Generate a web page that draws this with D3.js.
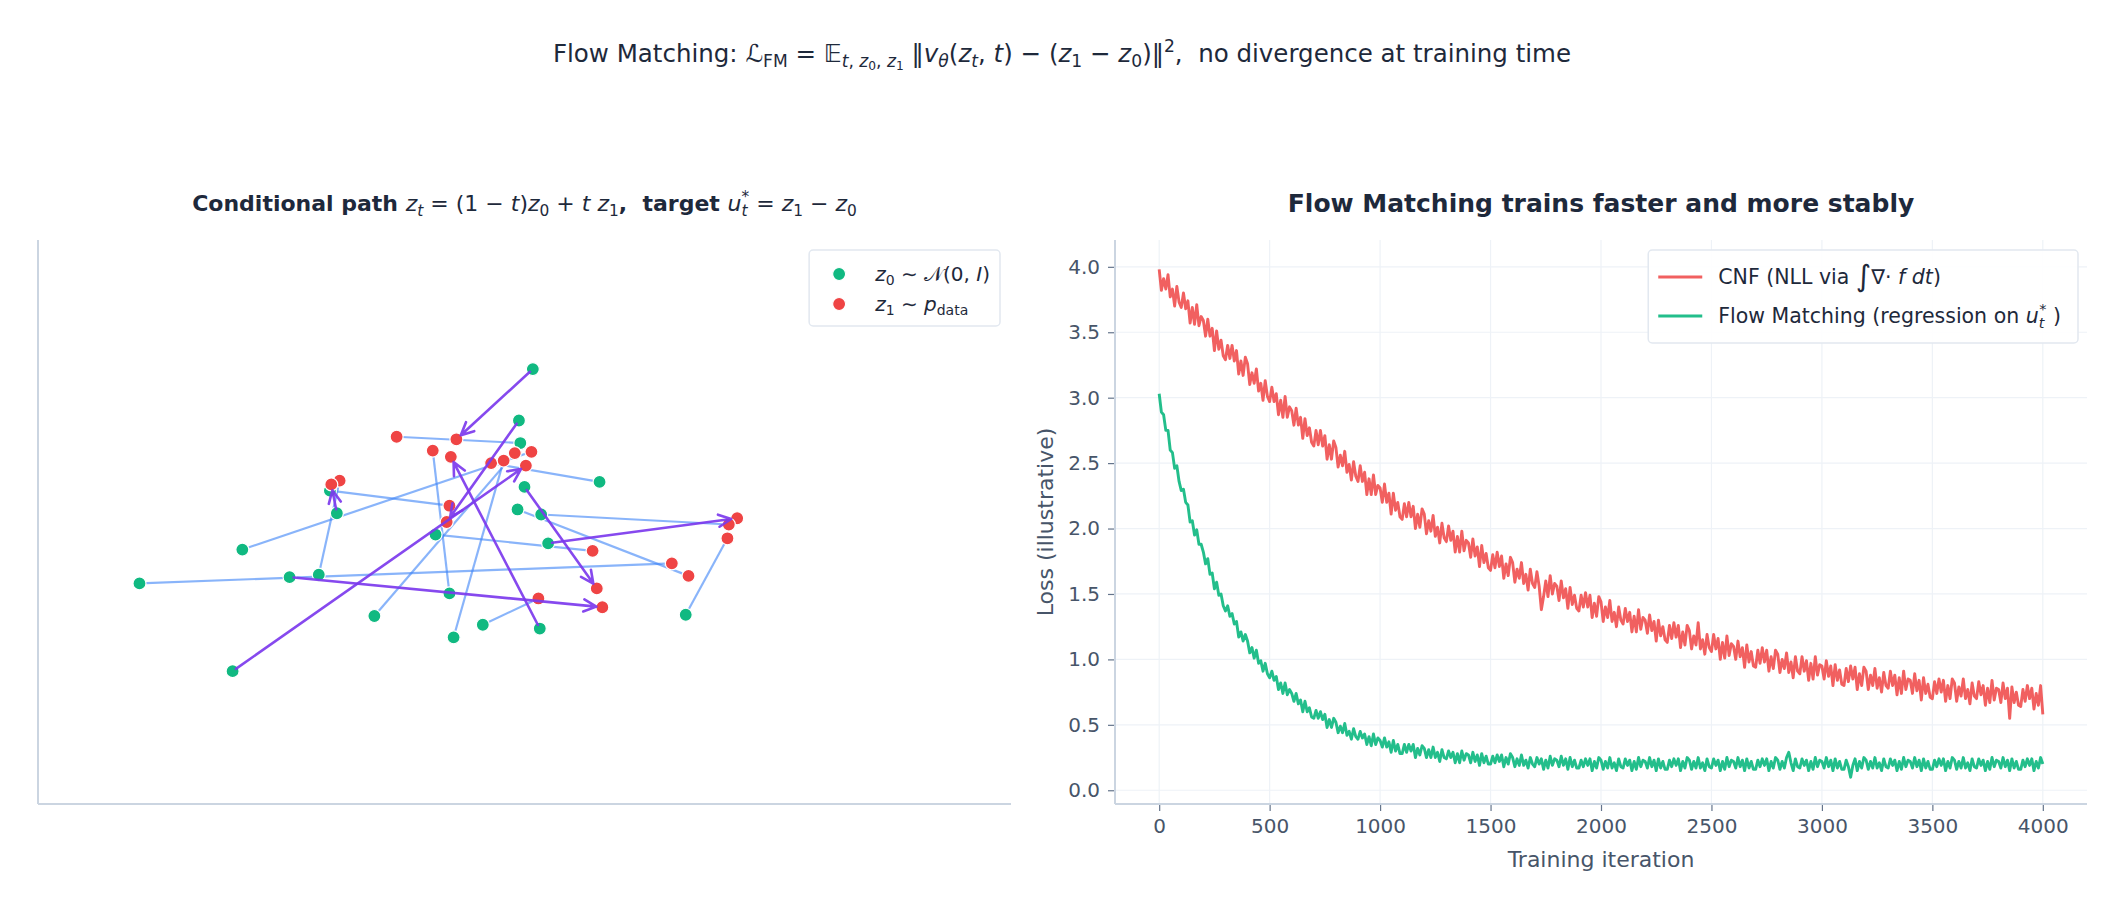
<!DOCTYPE html>
<html>
<head>
<meta charset="utf-8">
<script src="https://cdn.jsdelivr.net/npm/d3@7"></script>
<style>
  body { margin: 0; background: #fff; }
  svg text { font-family: "DejaVu Sans", sans-serif; white-space: pre; }
</style>
</head>
<body>
<svg id="fig" width="2125" height="908"></svg>
<script>
// ---- left panel: z0 -> z1 pairs (data units) ----
const z0x = [0.06, -0.04, -2.10, 0.11, -1.48, -1.69, 0.00, 0.17, -0.03, 0.54, -0.05, 0.12, -2.03, -0.64, -2.77, -1.35, -0.54, -1.08, -0.30, -0.51, 1.16, -1.40];
const z0y = [1.47, 1.06, -0.94, -0.60, -0.17, -0.19, 0.53, 0.08, 0.88, 0.57, 0.35, 0.31, 0.03, 0.15, -0.24, 0.32, -0.32, -0.50, -0.57, -0.67, -0.49, 0.50];
const z1x = [-0.49, -0.56, 0.01, -0.53, -1.33, 0.56, 0.52, 1.53, -0.92, -0.24, 1.18, 1.47, 0.05, 0.49, 1.06, -1.39, -0.66, -0.07, 0.10, -0.15, 1.46, -0.54];
const z1y = [0.91, 0.25, 0.70, 0.77, 0.58, -0.43, -0.28, 0.28, 0.93, 0.72, -0.18, 0.23, 0.81, 0.02, -0.08, 0.55, 0.82, 0.80, -0.36, 0.74, 0.12, 0.38];
// pairs drawn as highlighted arrows
const arrowIdx = [0, 1, 2, 3, 15, 5, 6, 7];

// ---- right panel: loss curves, one value every 10 iterations ----
const iterations = d3.range(0, 4001, 10);
const cnfLoss = [
  3.98, 3.82, 3.91, 3.83, 3.94, 3.77, 3.83, 3.70, 3.85, 3.73,
  3.69, 3.80, 3.68, 3.74, 3.57, 3.69, 3.56, 3.71, 3.55, 3.62,
  3.59, 3.47, 3.60, 3.47, 3.53, 3.36, 3.51, 3.37, 3.44, 3.32,
  3.29, 3.40, 3.30, 3.40, 3.28, 3.36, 3.18, 3.28, 3.17, 3.31,
  3.26, 3.10, 3.19, 3.11, 3.22, 3.05, 3.11, 2.98, 3.13, 3.01,
  2.97, 3.08, 2.97, 3.03, 2.87, 2.98, 2.85, 3.01, 2.85, 2.93,
  2.90, 2.79, 2.92, 2.79, 2.85, 2.69, 2.84, 2.71, 2.77, 2.66,
  2.63, 2.75, 2.64, 2.75, 2.63, 2.71, 2.53, 2.64, 2.53, 2.67,
  2.62, 2.47, 2.56, 2.48, 2.59, 2.43, 2.49, 2.37, 2.51, 2.40,
  2.36, 2.48, 2.36, 2.43, 2.26, 2.38, 2.26, 2.41, 2.26, 2.33,
  2.31, 2.20, 2.34, 2.20, 2.27, 2.11, 2.27, 2.14, 2.20, 2.09,
  2.07, 2.19, 2.09, 2.20, 2.09, 2.17, 2.00, 2.11, 2.01, 2.15,
  2.11, 1.96, 2.06, 1.98, 2.10, 1.94, 2.01, 1.89, 2.04, 1.93,
  1.90, 2.02, 1.91, 1.98, 1.82, 1.94, 1.82, 1.98, 1.83, 1.91,
  1.89, 1.78, 1.92, 1.79, 1.86, 1.71, 1.87, 1.74, 1.81, 1.70,
  1.68, 1.80, 1.70, 1.82, 1.71, 1.79, 1.62, 1.73, 1.64, 1.78,
  1.74, 1.59, 1.69, 1.62, 1.74, 1.58, 1.65, 1.53, 1.69, 1.58,
  1.55, 1.67, 1.56, 1.38, 1.48, 1.60, 1.48, 1.64, 1.50, 1.58,
  1.56, 1.45, 1.60, 1.47, 1.54, 1.39, 1.55, 1.42, 1.49, 1.39,
  1.37, 1.49, 1.40, 1.51, 1.40, 1.49, 1.32, 1.43, 1.33, 1.48,
  1.44, 1.29, 1.40, 1.32, 1.45, 1.29, 1.36, 1.25, 1.40, 1.30,
  1.27, 1.39, 1.29, 1.36, 1.21, 1.33, 1.21, 1.38, 1.23, 1.32,
  1.30, 1.20, 1.34, 1.22, 1.29, 1.14, 1.30, 1.18, 1.25, 1.15,
  1.13, 1.26, 1.16, 1.28, 1.17, 1.26, 1.09, 1.21, 1.11, 1.26,
  1.22, 1.08, 1.18, 1.11, 1.28, 1.08, 1.15, 1.04, 1.19, 1.09,
  1.06, 1.19, 1.08, 1.16, 1.00, 1.13, 1.01, 1.18, 1.03, 1.12,
  1.10, 1.00, 1.14, 1.02, 1.09, 0.94, 1.11, 0.98, 1.06, 0.95,
  0.94, 1.07, 0.97, 1.09, 0.98, 1.07, 0.91, 1.02, 0.93, 1.07,
  1.04, 0.90, 1.00, 0.93, 1.05, 0.90, 0.98, 0.86, 1.02, 0.91,
  0.89, 1.02, 0.91, 0.99, 0.84, 0.97, 0.85, 1.02, 0.88, 0.96,
  0.95, 0.85, 0.99, 0.87, 0.95, 0.80, 0.96, 0.84, 0.92, 0.81,
  0.80, 0.93, 0.83, 0.95, 0.85, 0.94, 0.77, 0.89, 0.80, 0.94,
  0.91, 0.77, 0.88, 0.80, 0.93, 0.78, 0.86, 0.75, 0.90, 0.80,
  0.78, 0.91, 0.80, 0.88, 0.73, 0.86, 0.74, 0.91, 0.77, 0.85,
  0.84, 0.74, 0.89, 0.76, 0.84, 0.69, 0.86, 0.74, 0.81, 0.71,
  0.70, 0.83, 0.74, 0.85, 0.75, 0.84, 0.68, 0.80, 0.70, 0.85,
  0.82, 0.68, 0.79, 0.72, 0.85, 0.70, 0.77, 0.66, 0.82, 0.72,
  0.70, 0.83, 0.73, 0.80, 0.65, 0.78, 0.67, 0.84, 0.69, 0.78,
  0.77, 0.67, 0.82, 0.70, 0.78, 0.55, 0.79, 0.67, 0.75, 0.65,
  0.64, 0.77, 0.68, 0.80, 0.70, 0.78, 0.62, 0.74, 0.65, 0.80,
  0.58
];
const fmLoss = [
  3.03, 2.89, 2.87, 2.75, 2.75, 2.60, 2.58, 2.46, 2.48, 2.36,
  2.29, 2.30, 2.20, 2.18, 2.05, 2.06, 1.95, 1.99, 1.88, 1.88,
  1.82, 1.73, 1.77, 1.65, 1.66, 1.54, 1.59, 1.49, 1.50, 1.41,
  1.37, 1.41, 1.33, 1.35, 1.27, 1.29, 1.17, 1.21, 1.14, 1.19,
  1.14, 1.05, 1.09, 1.01, 1.07, 0.97, 0.99, 0.91, 0.97, 0.89,
  0.86, 0.91, 0.84, 0.87, 0.77, 0.82, 0.74, 0.82, 0.73, 0.77,
  0.74, 0.68, 0.74, 0.66, 0.69, 0.60, 0.68, 0.60, 0.63, 0.56,
  0.55, 0.61, 0.55, 0.60, 0.54, 0.58, 0.48, 0.54, 0.48, 0.55,
  0.52, 0.44, 0.49, 0.44, 0.51, 0.42, 0.45, 0.39, 0.47, 0.41,
  0.39, 0.45, 0.40, 0.43, 0.35, 0.41, 0.34, 0.43, 0.35, 0.40,
  0.38, 0.33, 0.40, 0.33, 0.37, 0.29, 0.38, 0.30, 0.35, 0.28,
  0.28, 0.35, 0.29, 0.35, 0.30, 0.35, 0.25, 0.32, 0.27, 0.34,
  0.32, 0.25, 0.31, 0.25, 0.33, 0.25, 0.29, 0.22, 0.31, 0.25,
  0.24, 0.30, 0.25, 0.29, 0.21, 0.28, 0.21, 0.30, 0.23, 0.28,
  0.27, 0.21, 0.29, 0.22, 0.27, 0.19, 0.28, 0.21, 0.26, 0.20,
  0.20, 0.26, 0.21, 0.27, 0.22, 0.27, 0.18, 0.25, 0.20, 0.28,
  0.25, 0.18, 0.24, 0.19, 0.27, 0.19, 0.23, 0.17, 0.25, 0.20,
  0.18, 0.25, 0.20, 0.24, 0.16, 0.23, 0.17, 0.26, 0.19, 0.24,
  0.23, 0.18, 0.26, 0.19, 0.24, 0.16, 0.25, 0.18, 0.23, 0.17,
  0.17, 0.23, 0.18, 0.24, 0.19, 0.24, 0.15, 0.22, 0.17, 0.25,
  0.23, 0.16, 0.22, 0.17, 0.25, 0.17, 0.21, 0.15, 0.24, 0.18,
  0.17, 0.24, 0.19, 0.23, 0.15, 0.22, 0.16, 0.25, 0.18, 0.23,
  0.22, 0.17, 0.25, 0.18, 0.23, 0.15, 0.24, 0.17, 0.22, 0.16,
  0.16, 0.23, 0.18, 0.24, 0.19, 0.24, 0.15, 0.22, 0.17, 0.25,
  0.23, 0.16, 0.22, 0.17, 0.25, 0.17, 0.21, 0.15, 0.24, 0.18,
  0.17, 0.24, 0.19, 0.23, 0.15, 0.22, 0.16, 0.25, 0.18, 0.23,
  0.22, 0.17, 0.25, 0.18, 0.23, 0.15, 0.24, 0.17, 0.22, 0.16,
  0.16, 0.23, 0.18, 0.24, 0.19, 0.24, 0.15, 0.22, 0.17, 0.25,
  0.23, 0.16, 0.22, 0.17, 0.25, 0.29, 0.21, 0.15, 0.24, 0.18,
  0.17, 0.24, 0.19, 0.23, 0.15, 0.22, 0.16, 0.25, 0.18, 0.23,
  0.22, 0.17, 0.25, 0.18, 0.23, 0.15, 0.24, 0.17, 0.22, 0.16,
  0.16, 0.23, 0.18, 0.10, 0.19, 0.24, 0.15, 0.22, 0.17, 0.25,
  0.23, 0.16, 0.22, 0.17, 0.25, 0.17, 0.21, 0.15, 0.24, 0.18,
  0.17, 0.24, 0.19, 0.23, 0.15, 0.22, 0.16, 0.25, 0.18, 0.23,
  0.22, 0.17, 0.25, 0.18, 0.23, 0.15, 0.24, 0.17, 0.22, 0.16,
  0.16, 0.23, 0.18, 0.24, 0.19, 0.24, 0.15, 0.22, 0.17, 0.25,
  0.23, 0.16, 0.22, 0.17, 0.25, 0.17, 0.21, 0.15, 0.24, 0.18,
  0.17, 0.24, 0.19, 0.23, 0.15, 0.22, 0.16, 0.25, 0.18, 0.23,
  0.22, 0.17, 0.25, 0.18, 0.23, 0.15, 0.24, 0.17, 0.22, 0.16,
  0.16, 0.23, 0.18, 0.24, 0.19, 0.24, 0.15, 0.22, 0.17, 0.25,
  0.20
];
const xTicks = [0, 500, 1000, 1500, 2000, 2500, 3000, 3500, 4000];
const yTicks = [0, 0.5, 1, 1.5, 2, 2.5, 3, 3.5, 4];

// colours
const green = "#10b981", red = "#ef4444", blue = "#3b82f6", purple = "#7c3aed";
const ink = "#1e293b", slate = "#475569", spine = "#cbd5e1", gridC = "#eef2f7";

const svg = d3.select("#fig");
svg.append("rect").attr("width", 2125).attr("height", 908).attr("fill", "#fff");

// text with sub/superscripts: [text, style, scale, baselineOffset(em), dx(em)]
function richText(g, x, y, segs, o) {
  const t = g.append("text").attr("x", x).attr("y", y)
    .attr("font-size", o.size).attr("fill", o.color)
    .attr("text-anchor", o.anchor || "start")
    .attr("font-weight", o.weight || "normal");
  let level = 0;
  segs.forEach(s => {
    const [txt, style = "", scale = 1, off = 0, dx = 0] = s;
    const sp = t.append("tspan").text(txt)
      .attr("font-size", o.size * scale);
    if (off !== level) sp.attr("dy", (off - level) * o.size);
    if (dx) sp.attr("dx", dx * o.size);
    if (style.includes("i")) sp.attr("font-style", "italic");
    if (style.includes("b")) sp.attr("font-weight", "bold");
    if (style.includes("n")) sp.attr("font-weight", "normal");
    level = off;
  });
  return t;
}
const SUB = 0.22, SUB2 = 0.34, SUP = -0.42;

// suptitle
richText(svg, 1062, 62, [
  ["Flow Matching: "], ["ℒ"], ["FM", "", 0.7, SUB], [" = ", "", 1, 0], ["𝔼"],
  ["t", "i", 0.7, SUB], [", ", "", 0.7, SUB], ["z", "i", 0.7, SUB], ["0", "", 0.5, SUB2],
  [", ", "", 0.7, SUB], ["z", "i", 0.7, SUB], ["1", "", 0.5, SUB2],
  [" ‖", "", 1, 0], ["v", "i"], ["θ", "i", 0.7, SUB], ["(", "", 1, 0], ["z", "i"], ["t", "i", 0.7, SUB],
  [", ", "", 1, 0], ["t", "i"], [") − (", ""], ["z", "i"], ["1", "", 0.7, SUB], [" − ", "", 1, 0],
  ["z", "i"], ["0", "", 0.7, SUB], [")‖", "", 1, 0], ["2", "", 0.7, SUP],
  [",  no divergence at training time", "", 1, 0]
], { size: 24.5, color: ink, anchor: "middle" });

// ================= left panel =================
const L = { left: 38, right: 1011, top: 240, bottom: 804 };
const xL = d3.scaleLinear().domain([-3.5, 3.5]).range([L.left, L.right]);
const yL = d3.scaleLinear().domain([-2.0, 2.5]).range([L.bottom, L.top]);

richText(svg, (L.left + L.right) / 2, 211, [
  ["Conditional path ", "b"], ["z", "in"], ["t", "in", 0.7, SUB], [" = (1 − ", "n", 1, 0], ["t", "in"],
  [")", "n"], ["z", "in"], ["0", "n", 0.7, SUB], [" + ", "n", 1, 0], ["t", "in"], [" ", "n"],
  ["z", "in"], ["1", "n", 0.7, SUB], [",  target ", "b", 1, 0], ["u", "in"], ["t", "in", 0.7, SUB],
  ["*", "n", 0.7, SUP, -0.27], [" = ", "n", 1, 0], ["z", "in"], ["1", "n", 0.7, SUB],
  [" − ", "n", 1, 0], ["z", "in"], ["0", "n", 0.7, SUB]
], { size: 22, color: ink, anchor: "middle", weight: "bold" });

const left = svg.append("g");
// spines
left.append("line").attr("x1", L.left).attr("x2", L.left).attr("y1", L.top).attr("y2", L.bottom)
  .attr("stroke", spine).attr("stroke-width", 2);
left.append("line").attr("x1", L.left).attr("x2", L.right).attr("y1", L.bottom).attr("y2", L.bottom)
  .attr("stroke", spine).attr("stroke-width", 2);

const pairs = z0x.map((d, i) => ({ i, x0: z0x[i], y0: z0y[i], x1: z1x[i], y1: z1y[i] }));
const plain = pairs.filter(p => !arrowIdx.includes(p.i));
const arrows = pairs.filter(p => arrowIdx.includes(p.i));

left.selectAll(".pair").data(plain).enter().append("line")
  .attr("x1", d => xL(d.x0)).attr("y1", d => yL(d.y0))
  .attr("x2", d => xL(d.x1)).attr("y2", d => yL(d.y1))
  .attr("stroke", blue).attr("stroke-opacity", 0.6).attr("stroke-width", 2.2);

left.selectAll(".z0").data(pairs).enter().append("circle")
  .attr("cx", d => xL(d.x0)).attr("cy", d => yL(d.y0)).attr("r", 6.5)
  .attr("fill", green).attr("stroke", "#fff").attr("stroke-width", 1.2);
left.selectAll(".z1").data(pairs).enter().append("circle")
  .attr("cx", d => xL(d.x1)).attr("cy", d => yL(d.y1)).attr("r", 6.5)
  .attr("fill", red).attr("stroke", "#fff").attr("stroke-width", 1.2);

// highlighted arrows on top
arrows.forEach(d => {
  const sx = xL(d.x0), sy = yL(d.y0), tx = xL(d.x1), ty = yL(d.y1);
  const len = Math.hypot(tx - sx, ty - sy);
  const ux = (tx - sx) / len, uy = (ty - sy) / len;
  const ax = sx + ux * 4, ay = sy + uy * 4;
  const bx = tx - ux * 6, by = ty - uy * 6;
  const ang = Math.atan2(uy, ux), hl = 14, ha = 0.45;
  const p = d3.path();
  p.moveTo(ax, ay); p.lineTo(bx, by);
  p.moveTo(bx - hl * Math.cos(ang - ha), by - hl * Math.sin(ang - ha));
  p.lineTo(bx, by);
  p.lineTo(bx - hl * Math.cos(ang + ha), by - hl * Math.sin(ang + ha));
  left.append("path").attr("d", p.toString()).attr("fill", "none")
    .attr("stroke", purple).attr("stroke-width", 2.6).attr("stroke-linecap", "round")
    .attr("stroke-linejoin", "round").attr("stroke-opacity", 0.92);
});

// left legend
{
  const lg = svg.append("g");
  const box = lg.append("rect").attr("rx", 4).attr("fill", "#fff").attr("fill-opacity", 0.9)
    .attr("stroke", "#e2e8f0").attr("stroke-width", 1.5);
  const rows = [
    { c: green, cy: 24, segs: [["z", "i"], ["0", "", 0.7, SUB], [" ∼ ", "", 1, 0], ["𝒩"], ["(0, "], ["I", "i"], [")"]] },
    { c: red, cy: 54, segs: [["z", "i"], ["1", "", 0.7, SUB], [" ∼ ", "", 1, 0], ["p", "i"], ["data", "", 0.7, SUB]] }
  ];
  let maxW = 0;
  rows.forEach(r => {
    lg.append("circle").attr("cx", 30).attr("cy", r.cy).attr("r", 6.5).attr("fill", r.c)
      .attr("stroke", "#fff").attr("stroke-width", 1.2);
    const t = richText(lg, 66, r.cy + 7, r.segs, { size: 20, color: ink });
    maxW = Math.max(maxW, t.node().getComputedTextLength());
  });
  const w = 66 + maxW + 10;
  box.attr("x", 0).attr("y", 0).attr("width", w).attr("height", 76);
  lg.attr("transform", `translate(${L.right - 11 - w},250)`);
}

// ================= right panel =================
const R = { left: 1115, right: 2087, top: 240, bottom: 804 };
const x = d3.scaleLinear().domain([-200, 4200]).range([R.left, R.right]);
const y = d3.scaleLinear().domain([-0.105, 4.205]).range([R.bottom, R.top]);

svg.append("text").attr("x", (R.left + R.right) / 2).attr("y", 212)
  .attr("text-anchor", "middle").attr("font-size", 25).attr("font-weight", "bold")
  .attr("fill", ink).text("Flow Matching trains faster and more stably");

const right = svg.append("g");
// grid
right.selectAll(".gx").data(xTicks).enter().append("line")
  .attr("x1", d => x(d)).attr("x2", d => x(d)).attr("y1", R.top).attr("y2", R.bottom)
  .attr("stroke", gridC).attr("stroke-width", 1.2);
right.selectAll(".gy").data(yTicks).enter().append("line")
  .attr("x1", R.left).attr("x2", R.right).attr("y1", d => y(d)).attr("y2", d => y(d))
  .attr("stroke", gridC).attr("stroke-width", 1.2);

// curves
const lineGen = d3.line().x((d, i) => x(iterations[i])).y(d => y(d));
right.append("path").datum(cnfLoss).attr("d", lineGen).attr("fill", "none")
  .attr("stroke", red).attr("stroke-opacity", 0.85).attr("stroke-width", 2.9)
  .attr("stroke-linejoin", "round");
right.append("path").datum(fmLoss).attr("d", lineGen).attr("fill", "none")
  .attr("stroke", green).attr("stroke-opacity", 0.92).attr("stroke-width", 2.9)
  .attr("stroke-linejoin", "round");

// axes
const xAxis = d3.axisBottom(x).tickValues(xTicks).tickFormat(d3.format("d")).tickSize(7).tickPadding(8);
const yAxis = d3.axisLeft(y).tickValues(yTicks).tickFormat(d3.format(".1f")).tickSize(7).tickPadding(8);
const gx = right.append("g").attr("transform", `translate(0,${R.bottom})`).call(xAxis);
const gy = right.append("g").attr("transform", `translate(${R.left},0)`).call(yAxis);
[gx, gy].forEach(g => {
  g.select(".domain").remove();
  g.selectAll(".tick line").attr("stroke", "#64748b").attr("stroke-width", 1.2);
  g.selectAll(".tick text").attr("fill", slate).attr("font-size", 20)
    .attr("font-family", "DejaVu Sans, sans-serif");
});
right.append("line").attr("x1", R.left).attr("x2", R.left).attr("y1", R.top).attr("y2", R.bottom)
  .attr("stroke", spine).attr("stroke-width", 2);
right.append("line").attr("x1", R.left).attr("x2", R.right).attr("y1", R.bottom).attr("y2", R.bottom)
  .attr("stroke", spine).attr("stroke-width", 2);

svg.append("text").attr("x", (R.left + R.right) / 2).attr("y", 867).attr("text-anchor", "middle")
  .attr("font-size", 22).attr("fill", slate).text("Training iteration");
svg.append("text").attr("transform", `translate(1053,${(R.top + R.bottom) / 2}) rotate(-90)`)
  .attr("text-anchor", "middle").attr("font-size", 22).attr("fill", slate).text("Loss (illustrative)");

// right legend
{
  const lg = svg.append("g");
  const box = lg.append("rect").attr("rx", 4).attr("fill", "#fff").attr("fill-opacity", 0.9)
    .attr("stroke", "#e2e8f0").attr("stroke-width", 1.5);
  const rows = [
    { c: red, op: 0.85, cy: 27, segs: [["CNF (NLL via "], ["∫", "", 1.45, 0.08], ["∇·", "", 1, 0], [" "], ["f", "i"], [" "], ["d", "i"], ["t", "i"], [")"]] },
    { c: green, op: 0.92, cy: 66, segs: [["Flow Matching (regression on "], ["u", "i"], ["t", "i", 0.7, SUB], ["*", "", 0.7, SUP, -0.25], [" )", "", 1, 0]] }
  ];
  let maxW = 0;
  rows.forEach(r => {
    lg.append("line").attr("x1", 10).attr("x2", 54).attr("y1", r.cy).attr("y2", r.cy)
      .attr("stroke", r.c).attr("stroke-opacity", r.op).attr("stroke-width", 2.9);
    const t = richText(lg, 70, r.cy + 7, r.segs, { size: 20.5, color: ink });
    maxW = Math.max(maxW, t.node().getComputedTextLength());
  });
  const w = 70 + maxW + 12;
  box.attr("x", 0).attr("y", 0).attr("width", w).attr("height", 93);
  lg.attr("transform", `translate(${R.right - 9 - w},250)`);
}
</script>
</body>
</html>
